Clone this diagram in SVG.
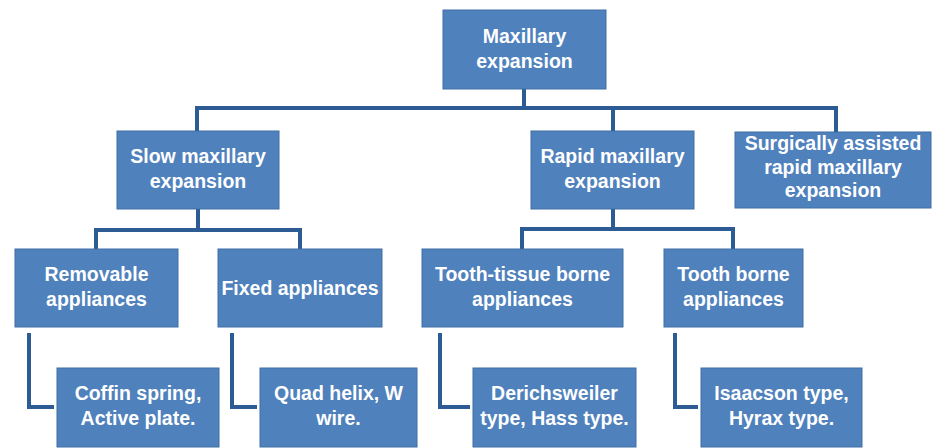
<svg xmlns="http://www.w3.org/2000/svg" width="933" height="448" viewBox="0 0 933 448">
<style>
.box{fill:#4F81BD;stroke:#3F6EA6;stroke-width:1}
.t{fill:#FFFFFF;font-family:"Liberation Sans",Arial,sans-serif;font-weight:bold;font-size:19.5px;text-anchor:middle}
.c{fill:none;stroke:#2D5B94;stroke-width:4;stroke-linejoin:miter}
</style>
<rect width="933" height="448" fill="#FFFFFF"/>
<g id="connectors">
<path class="c" d="M524,89 V108"/>
<path class="c" d="M197,131 V108 H836 V132"/>
<path class="c" d="M613,108 V131"/>
<path class="c" d="M198,209 V230"/>
<path class="c" d="M96,249 V230 H300 V249"/>
<path class="c" d="M613,209 V229"/>
<path class="c" d="M522,249 V229 H733 V249"/>
<path class="c" d="M29,333 V407 H54"/>
<path class="c" d="M232,333 V407 H257"/>
<path class="c" d="M440,333 V407 H470"/>
<path class="c" d="M675,333 V407 H698"/>
</g>
<g id="root">
<rect class="box" x="443" y="10" width="163" height="79"/>
<text class="t" x="524.5" y="43">Maxillary</text>
<text class="t" x="524.5" y="68">expansion</text>
</g>
<g id="slow">
<rect class="box" x="117" y="131" width="162" height="78"/>
<text class="t" x="198" y="163">Slow maxillary</text>
<text class="t" x="198" y="188">expansion</text>
</g>
<g id="rapid">
<rect class="box" x="531" y="131" width="163" height="78"/>
<text class="t" x="612.5" y="163">Rapid maxillary</text>
<text class="t" x="612.5" y="188">expansion</text>
</g>
<g id="surgical">
<rect class="box" x="735" y="132" width="196" height="76"/>
<text class="t" x="833" y="150">Surgically assisted</text>
<text class="t" x="833" y="173.5">rapid maxillary</text>
<text class="t" x="833" y="197">expansion</text>
</g>
<g id="removable">
<rect class="box" x="15" y="249" width="163" height="78"/>
<text class="t" x="96.5" y="281">Removable</text>
<text class="t" x="96.5" y="306">appliances</text>
</g>
<g id="fixed">
<rect class="box" x="218" y="249" width="164" height="78"/>
<text class="t" x="300" y="294.5">Fixed appliances</text>
</g>
<g id="toothtissue">
<rect class="box" x="422" y="249" width="201" height="78"/>
<text class="t" x="522.5" y="281">Tooth-tissue borne</text>
<text class="t" x="522.5" y="306">appliances</text>
</g>
<g id="toothborne">
<rect class="box" x="664" y="249" width="139" height="78"/>
<text class="t" x="733.5" y="281">Tooth borne</text>
<text class="t" x="733.5" y="306">appliances</text>
</g>
<g id="coffin">
<rect class="box" x="57" y="368" width="162" height="79"/>
<text class="t" x="138" y="400">Coffin spring,</text>
<text class="t" x="138" y="425">Active plate.</text>
</g>
<g id="quad">
<rect class="box" x="260" y="368" width="157" height="79"/>
<text class="t" x="338.5" y="400">Quad helix, W</text>
<text class="t" x="338.5" y="425">wire.</text>
</g>
<g id="derich">
<rect class="box" x="473" y="368" width="163" height="79"/>
<text class="t" x="554.5" y="400">Derichsweiler</text>
<text class="t" x="554.5" y="425">type, Hass type.</text>
</g>
<g id="isaacson">
<rect class="box" x="701" y="368" width="161" height="79"/>
<text class="t" x="781.5" y="400">Isaacson type,</text>
<text class="t" x="781.5" y="425">Hyrax type.</text>
</g>
</svg>
